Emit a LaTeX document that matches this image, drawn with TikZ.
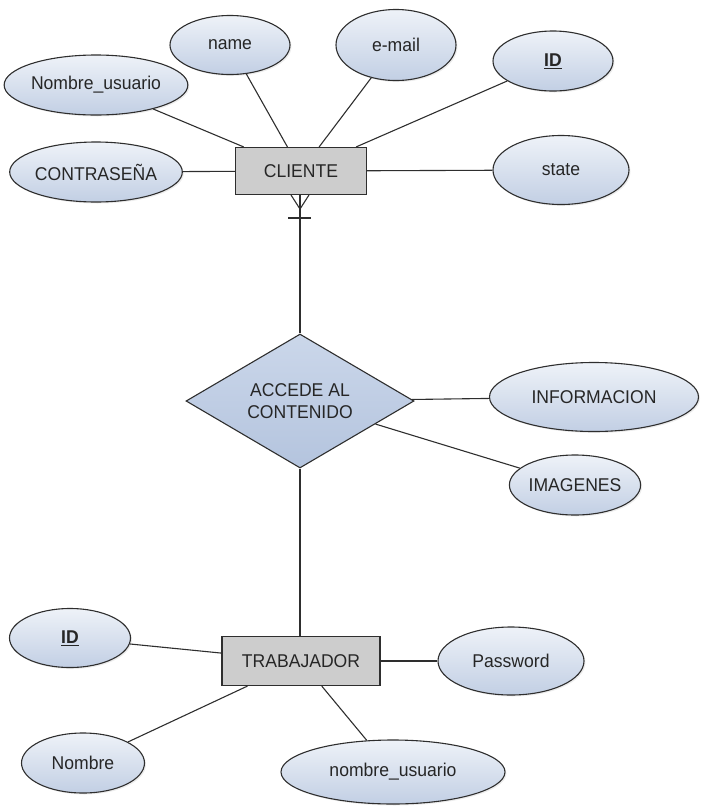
\documentclass[tikz,border=0pt]{standalone}
\usepackage{fontspec}
\setmainfont{Liberation Sans}[FakeStretch=0.95]
\usetikzlibrary{shapes.geometric,shadows}

\definecolor{edge}{HTML}{2E2E2E}
\definecolor{ink}{HTML}{262626}
\definecolor{attrtop}{HTML}{EEF2F8}
\definecolor{attrbot}{HTML}{C2CFE4}
\definecolor{reltop}{HTML}{CBD7EA}
\definecolor{relbot}{HTML}{B4C4DE}
\definecolor{entfill}{HTML}{CDCDCD}

\tikzset{
  attr/.style={ellipse, draw=edge, line width=1.1pt, top color=attrtop,
    bottom color=attrbot, inner sep=0pt, text=ink,
    drop shadow={shadow xshift=1.5pt, shadow yshift=-1.5pt, opacity=0.15}},
  entity/.style={rectangle, draw=edge, line width=1.1pt, fill=entfill,
    inner sep=0pt, text=ink},
  relation/.style={diamond, draw=edge, line width=1.1pt, top color=reltop,
    bottom color=relbot, inner sep=0pt, aspect=1.7, text=ink, align=center},
  conn/.style={draw=edge, line width=1.1pt}
}

\begin{document}
\begin{tikzpicture}[x=1pt, y=-1pt, font=\fontsize{18.5}{22}\selectfont]
\useasboundingbox (0,0) rectangle (701,807);

% CLIENTE entity and its attributes
\node[entity, minimum width=131, minimum height=47] (cliente) at (301,171) {CLIENTE};
\node[attr, minimum width=134, minimum height=60] (contra) at (96,172) {CONTRASEÑA};
\node[attr, minimum width=148, minimum height=60] (nomusr) at (96,85) {Nombre\_usuario};
\node[attr, minimum width=120, minimum height=59] (name) at (230,45) {name};
\node[attr, minimum width=120, minimum height=71] (email) at (396,45) {e-mail};
\node[attr, minimum width=120, minimum height=60] (idc) at (553,61) {\textbf{\underline{ID}}};
\node[attr, minimum width=136, minimum height=69] (state) at (561,170) {state};

% relationship and its attributes
\node[relation, minimum width=228, minimum height=134] (rel) at (300,401) {ACCEDE AL\\CONTENIDO};
\node[attr, minimum width=209, minimum height=69] (info) at (594,397) {INFORMACION};
\node[attr, minimum width=121, minimum height=60] (imag) at (575,485) {IMAGENES};

% TRABAJADOR entity and its attributes
\node[entity, minimum width=158, minimum height=49] (trab) at (301,661) {TRABAJADOR};
\node[attr, minimum width=121, minimum height=59] (idt) at (70,638) {\textbf{\underline{ID}}};
\node[attr, minimum width=146, minimum height=68] (pass) at (511,661) {Password};
\node[attr, minimum width=123, minimum height=60] (nombre) at (83,763) {Nombre};
\node[attr, minimum width=224, minimum height=64] (nomusr2) at (393,772) {nombre\_usuario};

% attribute links
\draw[conn] (cliente) -- (contra);
\draw[conn] (cliente) -- (nomusr);
\draw[conn] (cliente) -- (name);
\draw[conn] (cliente) -- (email);
\draw[conn] (cliente) -- (idc);
\draw[conn] (cliente) -- (state);
\draw[conn] (rel) -- (info);
\draw[conn] (rel) -- (imag);
\draw[conn] (trab) -- (idt);
\draw[conn] (trab) -- (pass);
\draw[conn] (trab) -- (nombre);
\draw[conn] (trab) -- (nomusr2);

% relationship links, with the one-or-many mark under CLIENTE
\coordinate (cfoot) at (300,209);
\coordinate (cbarl) at (288,218);
\coordinate (cbarr) at (311,218);
\coordinate (cfl) at (291,195);
\coordinate (cfr) at (309,195);
\draw[conn] (rel.north) -- (rel.north |- cliente.south);
\draw[conn] (cfl) -- (cfoot) -- (cfr);
\draw[conn] (cbarl) -- (cbarr);
\draw[conn] (rel.south) -- (rel.south |- trab.north);
\end{tikzpicture}
\end{document}
